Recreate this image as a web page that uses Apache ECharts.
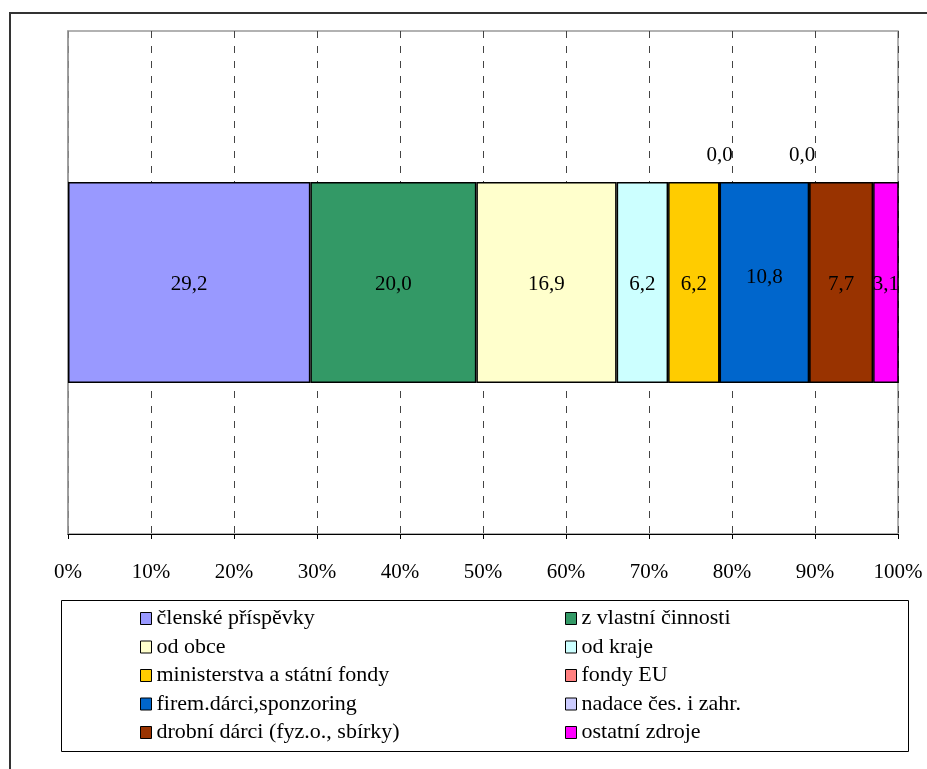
<!DOCTYPE html>
<html>
<head>
<meta charset="utf-8">
<script src="https://cdn.jsdelivr.net/npm/echarts@6/dist/echarts.min.js"></script>
<style>html,body{margin:0;padding:0;background:#fff}#c{width:927px;height:769px}</style>
</head>
<body>
<div id="c"></div>
<script>
const categories = ['1'];
const seriesNames = ['členské příspěvky','z vlastní činnosti','od obce','od kraje','ministerstva a státní fondy','fondy EU','firem.dárci,sponzoring','nadace čes. i zahr.','drobní dárci (fyz.o., sbírky)','ostatní zdroje'];
const seriesValues = [29.2, 20.0, 16.9, 6.2, 6.2, 0.0, 10.8, 0.0, 7.7, 3.1];
const seriesColors = ['#9999FF','#339966','#FFFFCC','#CCFFFF','#FFCC00','#FF8080','#0066CC','#CCCCFF','#993300','#FF00FF'];
const tickLabels = ['0%','10%','20%','30%','40%','50%','60%','70%','80%','90%','100%'];
const legendCol1 = [0,2,4,6,8];
const legendCol2 = [1,3,5,7,9];

const FONT = '"Liberation Serif", "Times New Roman", serif';
const chart = echarts.init(document.getElementById('c'), null, {renderer:'canvas'});

const series = seriesNames.map((name, i) => {
  const v = seriesValues[i];
  const isZero = v === 0;
  return {
    name: name,
    type: 'bar',
    stack: 'total',
    barWidth: 201,
    data: [v],
    itemStyle: {color: seriesColors[i], borderColor: '#000', borderWidth: 1.5},
    label: {
      show: true,
      position: isZero ? 'top' : 'inside',
      distance: 17,
      offset: name === 'firem.dárci,sponzoring' ? [0, -5] : (name === 'nadace čes. i zahr.' ? [-7, 2] : [0, 2]),
      color: '#000',
      fontFamily: FONT,
      fontSize: 21,
      formatter: p => p.value.toFixed(1).replace('.', ',')
    },
    emphasis: {disabled: true}
  };
});

const legendBase = {
  orient: 'vertical',
  icon: 'rect',
  itemWidth: 11,
  itemHeight: 12,
  itemGap: 5.5,
  itemStyle: {borderColor: '#000', borderWidth: 1},
  textStyle: {fontFamily: FONT, fontSize: 22, color: '#000', lineHeight: 23},
  selectedMode: false,
  padding: 0
};

chart.setOption({
  animation: false,
  backgroundColor: '#fff',
  grid: {left: 68, right: 29, top: 31, bottom: 235, show: true, borderColor: '#999', borderWidth: 1.5, backgroundColor: 'transparent'},
  xAxis: {
    type: 'value',
    min: 0, max: 100, interval: 10,
    axisLine: {show: true, lineStyle: {color: '#000', width: 1}},
    axisTick: {show: true, length: 5, lineStyle: {color: '#000'}},
    axisLabel: {margin: 28, fontFamily: FONT, fontSize: 21, color: '#000', formatter: v => tickLabels[Math.round(v / 10)]},
    splitLine: {show: true, lineStyle: {color: '#444', type: [7, 8], width: 1}}
  },
  yAxis: {
    type: 'category',
    data: categories,
    axisLine: {show: true, lineStyle: {color: '#999', width: 1.5}},
    axisTick: {show: false},
    axisLabel: {show: false}
  },
  legend: [
    Object.assign({}, legendBase, {left: 140, top: 607, data: legendCol1.map(i => seriesNames[i])}),
    Object.assign({}, legendBase, {left: 565, top: 607, data: legendCol2.map(i => seriesNames[i])})
  ],
  graphic: [
    {type: 'rect', shape: {x: 61.5, y: 600.5, width: 847, height: 151}, style: {fill: 'none', stroke: '#000', lineWidth: 1}, silent: true},
    {type: 'rect', shape: {x: 10, y: 13, width: 940, height: 800}, style: {fill: 'none', stroke: '#333', lineWidth: 2}, silent: true}
  ],
  series: series
});
</script>
</body>
</html>
